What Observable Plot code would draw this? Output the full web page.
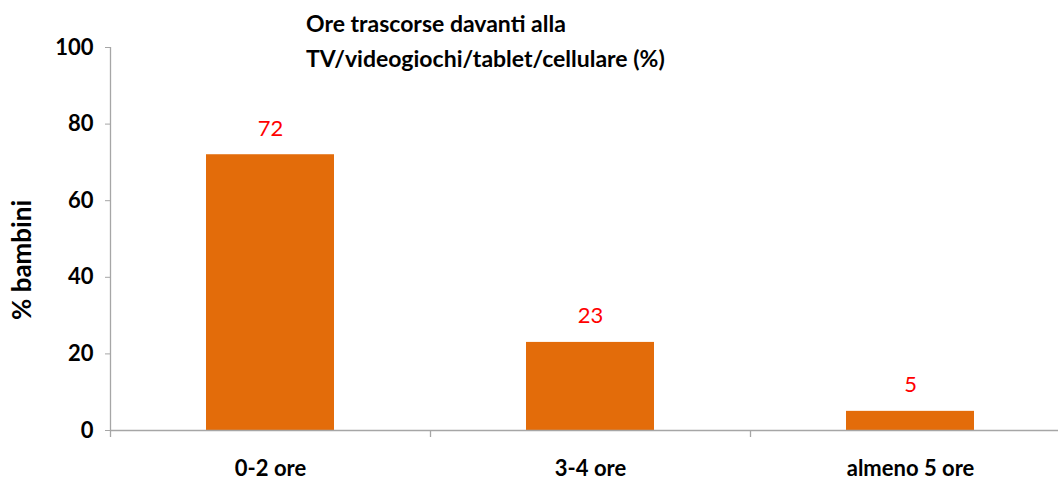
<!DOCTYPE html>
<html>
<head>
<meta charset="utf-8">
<script src="https://cdn.jsdelivr.net/npm/d3@7"></script>
<script src="https://cdn.jsdelivr.net/npm/@observablehq/plot@0.6"></script>
<style>
  body { margin: 0; background: #fff; }
  #wrap { position: relative; width: 1058px; height: 481px; font-family: Lato, "Open Sans", sans-serif; }
  #title { position: absolute; left: 306px; top: 6px; font-size: 23px; font-weight: bold; line-height: 35px; color: #000; white-space: nowrap; }
</style>
</head>
<body>
<div id="wrap">
  <div id="chart"></div>
  <div id="title">Ore trascorse davanti alla<br>TV/videogiochi/tablet/cellulare (%)</div>
</div>
<script>
const categories = ["0-2 ore", "3-4 ore", "almeno 5 ore"];
const values = [72, 23, 5];
const yTicks = [0, 20, 40, 60, 80, 100];
const yLabel = "% bambini";

const data = categories.map((c, i) => ({ cat: c, value: values[i] }));
const grey = "#a6a6a6";
const font = "Lato, 'Open Sans', sans-serif";

const chart = Plot.plot({
  width: 1058,
  height: 481,
  marginLeft: 110,
  marginRight: 0,
  marginTop: 47,
  marginBottom: 51,
  style: { fontFamily: font, color: "#000", background: "#fff" },
  x: { domain: categories, range: [110, 1070], paddingInner: 0.6, paddingOuter: 0.3 },
  y: { domain: [0, 100] },
  marks: [
    Plot.barY(data, { x: "cat", y: "value", fill: "#E36C0A" }),
    Plot.ruleY([0], { stroke: grey, strokeWidth: 1.3 }),
    Plot.ruleX([categories[0]], { dx: -160, y1: 0, y2: 100, stroke: grey, strokeWidth: 1.3 }),
    Plot.ruleX(categories, { dx: -160, y1: 0, y2: 0, insetBottom: -7, stroke: grey, strokeWidth: 1.3 }),
    Plot.axisY({ ticks: yTicks, tickSize: 5, tickPadding: 12, stroke: grey, fill: "#000", fontSize: 22, fontWeight: "bold", label: null }),
    Plot.axisX({ tickSize: 0, tickPadding: 30, fill: "#000", fontSize: 22, fontWeight: "bold", label: null }),
    Plot.text(data, { x: "cat", y: "value", text: d => String(d.value), dy: -26, fill: "#ff0000", fontSize: 22 }),
    Plot.text([yLabel], { text: d => d, frameAnchor: "left", textAnchor: "middle", rotate: -90, dx: -88, dy: 21, fontSize: 26, fontWeight: "bold", fill: "#000" })
  ]
});
document.getElementById("chart").appendChild(chart);
</script>
</body>
</html>
